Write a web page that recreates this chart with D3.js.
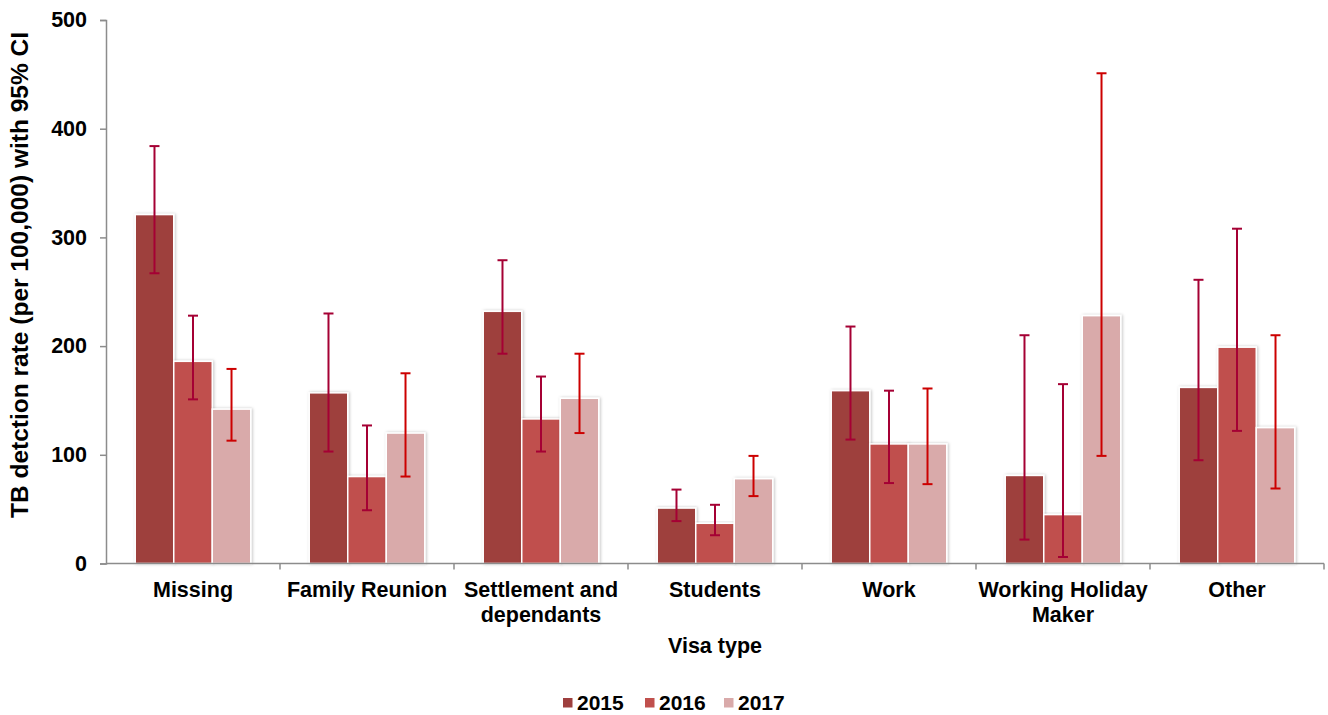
<!DOCTYPE html>
<html>
<head>
<meta charset="utf-8">
<script src="https://cdn.jsdelivr.net/npm/d3@7"></script>
<style>
  body { margin: 0; background: #fff; }
  svg text { font-family: "Liberation Sans", Arial, sans-serif; font-weight: bold; fill: #000; }
</style>
</head>
<body>
<svg id="chart" width="1328" height="715"></svg>
<script>
// Visa types (x categories; "\n" splits a label over two lines)
const categories = ["Missing", "Family Reunion", "Settlement and\ndependants", "Students", "Work", "Working Holiday\nMaker", "Other"];
const years = ["2015", "2016", "2017"];

// TB detection rate per 100,000 by year
const rate2015 = [321, 157, 232, 51, 159, 81, 162];
const rate2016 = [186, 80, 133, 37, 110, 45, 199];
const rate2017 = [142, 120, 152, 78, 110, 228, 125];

// 95% confidence intervals
const lower2015 = [267, 103, 193, 39, 114, 22, 95];
const upper2015 = [384, 230, 279, 68, 218, 210, 261];
const lower2016 = [151, 49, 103, 26, 74, 6, 122];
const upper2016 = [228, 127, 172, 54, 159, 165, 308];
const lower2017 = [113, 80, 120, 62, 73, 99, 69];
const upper2017 = [179, 175, 193, 99, 161, 451, 210];

const yTicks = [0, 100, 200, 300, 400, 500];

const barColors = ["#9E3F3E", "#C0504D", "#D9AAAA"];
const ciColors = ["#A50034", "#A50034", "#CC0000"];

const series = [
  { year: years[0], values: rate2015, lo: lower2015, hi: upper2015 },
  { year: years[1], values: rate2016, lo: lower2016, hi: upper2016 },
  { year: years[2], values: rate2017, lo: lower2017, hi: upper2017 }
];

const svg = d3.select("#chart");
const plotLeft = 106, plotRight = 1324, plotTop = 20, plotBottom = 563.5;
const labelSize = "21.5px";

const y = d3.scaleLinear().domain([0, 500]).range([plotBottom, plotTop]);
const x0 = d3.scaleBand().domain(categories).range([plotLeft, plotRight]);
const groupPad = x0.bandwidth() * 0.168;
const x1 = d3.scaleBand().domain(years).range([groupPad, x0.bandwidth() - groupPad]);
const color = d3.scaleOrdinal().domain(years).range(barColors);
const ciColor = d3.scaleOrdinal().domain(years).range(ciColors);

// soft shadow around each bar
const defs = svg.append("defs");
const f = defs.append("filter").attr("id", "barShadow")
  .attr("x", "-20%").attr("y", "-5%").attr("width", "140%").attr("height", "110%");
f.append("feDropShadow").attr("dx", 1).attr("dy", 0).attr("stdDeviation", 1.5)
  .attr("flood-color", "#000").attr("flood-opacity", 0.25);

// bars
const rows = [];
series.forEach(s => categories.forEach((c, i) => rows.push({ cat: c, year: s.year, v: s.values[i], lo: s.lo[i], hi: s.hi[i] })));

svg.append("g").selectAll("rect").data(rows).join("rect")
  .attr("x", d => x0(d.cat) + x1(d.year))
  .attr("y", d => y(d.v))
  .attr("width", x1.bandwidth())
  .attr("height", d => y(0) - y(d.v))
  .attr("fill", d => color(d.year))
  .attr("stroke", "#fff")
  .attr("stroke-width", 1.5)
  .attr("filter", "url(#barShadow)");

// axes
const yAxis = d3.axisLeft(y).tickValues(yTicks).tickSize(6).tickPadding(13);
const gy = svg.append("g").attr("transform", `translate(${plotLeft},0)`).call(yAxis);
gy.select(".domain").attr("stroke", "#8c8c8c").attr("stroke-width", 1.5);
gy.selectAll(".tick line").attr("stroke", "#8c8c8c").attr("stroke-width", 1.5);
gy.selectAll(".tick text").style("font-size", labelSize).attr("font-family", null);

const gx = svg.append("g").attr("transform", `translate(0,${plotBottom})`);
gx.append("line").attr("x1", plotLeft).attr("x2", plotRight).attr("stroke", "#8c8c8c").attr("stroke-width", 1.5);
const boundaries = categories.map(c => x0(c) + x0.bandwidth());
gx.selectAll(".tk").data(boundaries).join("line")
  .attr("x1", d => d).attr("x2", d => d).attr("y1", 0).attr("y2", 6)
  .attr("stroke", "#8c8c8c").attr("stroke-width", 1.5);

// category labels
const labels = svg.append("g").selectAll("text").data(categories).join("text")
  .attr("text-anchor", "middle")
  .style("font-size", labelSize)
  .attr("transform", d => `translate(${x0(d) + x0.bandwidth() / 2},597)`);
labels.selectAll("tspan").data(d => d.split("\n")).join("tspan")
  .attr("x", 0).attr("dy", (d, i) => i === 0 ? 0 : 24.5).text(d => d);

// error bars
const capHalf = 5;
const eb = svg.append("g").selectAll("g").data(rows).join("g")
  .attr("stroke", d => ciColor(d.year)).attr("stroke-width", 2);
const cx = d => x0(d.cat) + x1(d.year) + x1.bandwidth() / 2;
eb.append("line").attr("x1", cx).attr("x2", cx).attr("y1", d => y(d.hi)).attr("y2", d => y(d.lo));
eb.append("line").attr("x1", d => cx(d) - capHalf).attr("x2", d => cx(d) + capHalf).attr("y1", d => y(d.hi)).attr("y2", d => y(d.hi));
eb.append("line").attr("x1", d => cx(d) - capHalf).attr("x2", d => cx(d) + capHalf).attr("y1", d => y(d.lo)).attr("y2", d => y(d.lo));

// axis titles
svg.append("text").attr("text-anchor", "middle")
  .attr("transform", `translate(28,275) rotate(-90)`)
  .style("font-size", "24.5px").text("TB detction rate (per 100,000) with 95% CI");
svg.append("text").attr("text-anchor", "middle")
  .attr("x", (plotLeft + plotRight) / 2).attr("y", 653)
  .style("font-size", labelSize).text("Visa type");

// legend
const legendX = [563, 645, 724];
const lg = svg.append("g").selectAll("g").data(years).join("g")
  .attr("transform", (d, i) => `translate(${legendX[i]},710)`);
lg.append("rect").attr("x", 0).attr("y", -12).attr("width", 9.5).attr("height", 9.5).attr("fill", d => color(d));
lg.append("text").attr("x", 14).attr("y", 0).style("font-size", "21px").text(d => d);
</script>
</body>
</html>
